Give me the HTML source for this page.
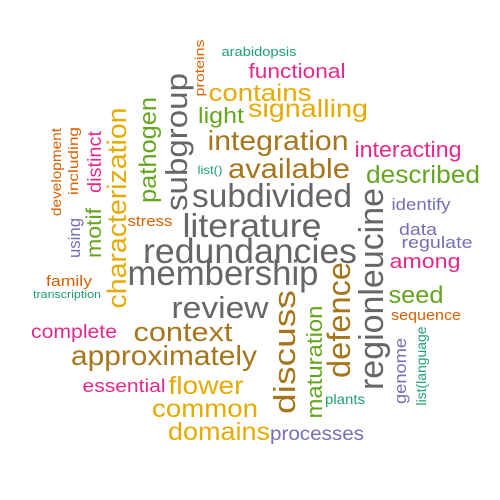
<!DOCTYPE html>
<html><head><meta charset="utf-8"><style>
html,body{margin:0;padding:0;background:#fff;width:500px;height:500px;overflow:hidden}
svg{display:block}
text{font-family:"Liberation Sans",Arial,sans-serif}
</style></head><body>
<svg id="cloud" width="500" height="500" viewBox="0 0 500 500"></svg>
<script>
const words=["arabidopsis","functional","contains","signalling","light","integration","interacting","available","described","subdivided","identify","literature","data","regulate","redundancies","among","membership","family","transcription","seed","review","sequence","complete","context","approximately","essential","flower","plants","common","domains","processes","list()","stress","proteins","subgroup","pathogen","characterization","development","including","distinct","motif","using","regionleucine","discuss","defence","maturation","genome","list(language","\""];
const freqSizes=[13,20,24,25,22,28,22,28,25,33,17,33,17,17,35,20,35,15,11,24,31,15,19,27,28,18,25,14,25,25,19,12,15,13,31,24,27,14,14,19,21,17,34,31,32,22,17,14,10];
const colorGroup=["teal","pink","gold","gold","green","brown","pink","brown","green","gray","purple","gray","purple","purple","gray","pink","gray","orange","teal","green","gray","orange","pink","brown","brown","pink","gold","teal","gold","gold","purple","teal","orange","orange","gray","green","gold","orange","orange","pink","green","purple","gray","brown","brown","green","purple","teal","teal"];
const rotated=[0,0,0,0,0,0,0,0,0,0,0,0,0,0,0,0,0,0,0,0,0,0,0,0,0,0,0,0,0,0,0,0,0,1,1,1,1,1,1,1,1,1,1,1,1,1,1,1,1];
// layout anchors: [center-x, baseline-y] for horizontal; [baseline-x, center-y] for rotated
const anchorX=[259,297,260,308,221,278,408,289,423,272,421,252,418,437,250,425,223,69,67,416,220,426,74,183,164,124,206,345,205,219,317,210,150,204,187,156,126,61,78,101,101,80,383,295,350,322,406,426,288];
const anchorY=[56,78,101,117,123,150,157,178,183,207,210,237,235,248,263,268,285,286,298,303,318,320,338,341,365,392,394,404,417,440,440,174,226,68,142,150,208,172,161,162,233,238,289,352,320,362,371,366,306];
const spanLen=[75,97,103,120,46,141,107,122,114,160,59,139,38,71,214,71,191,46,68,55,97,70,86,99,186,83,75,40,106,102,94,25,45,57,138,106,201,88,68,62,50,40,202,124,116,113,66,79,0];
const palette={teal:"#1B9E77",orange:"#D95F02",purple:"#7570B3",pink:"#E7298A",green:"#66A61E",gold:"#E6AB02",brown:"#A6761D",gray:"#666666"};
const svg=document.getElementById('cloud');
const NS="http://www.w3.org/2000/svg";
words.forEach((w,i)=>{
  const t=document.createElementNS(NS,'text');
  
  
  t.setAttribute('font-size',freqSizes[i]);
  t.setAttribute('fill',palette[colorGroup[i]]);
  t.setAttribute('text-anchor','middle');
  if(spanLen[i]>0){
    t.setAttribute('textLength',spanLen[i]);
    t.setAttribute('lengthAdjust','spacingAndGlyphs');
  }
  if(rotated[i]){
    t.setAttribute('transform','translate('+anchorX[i]+','+anchorY[i]+') rotate(-90)');
  }else{
    t.setAttribute('x',anchorX[i]);t.setAttribute('y',anchorY[i]);
  }
  t.textContent=w;
  svg.appendChild(t);
});
</script>
</body></html>
